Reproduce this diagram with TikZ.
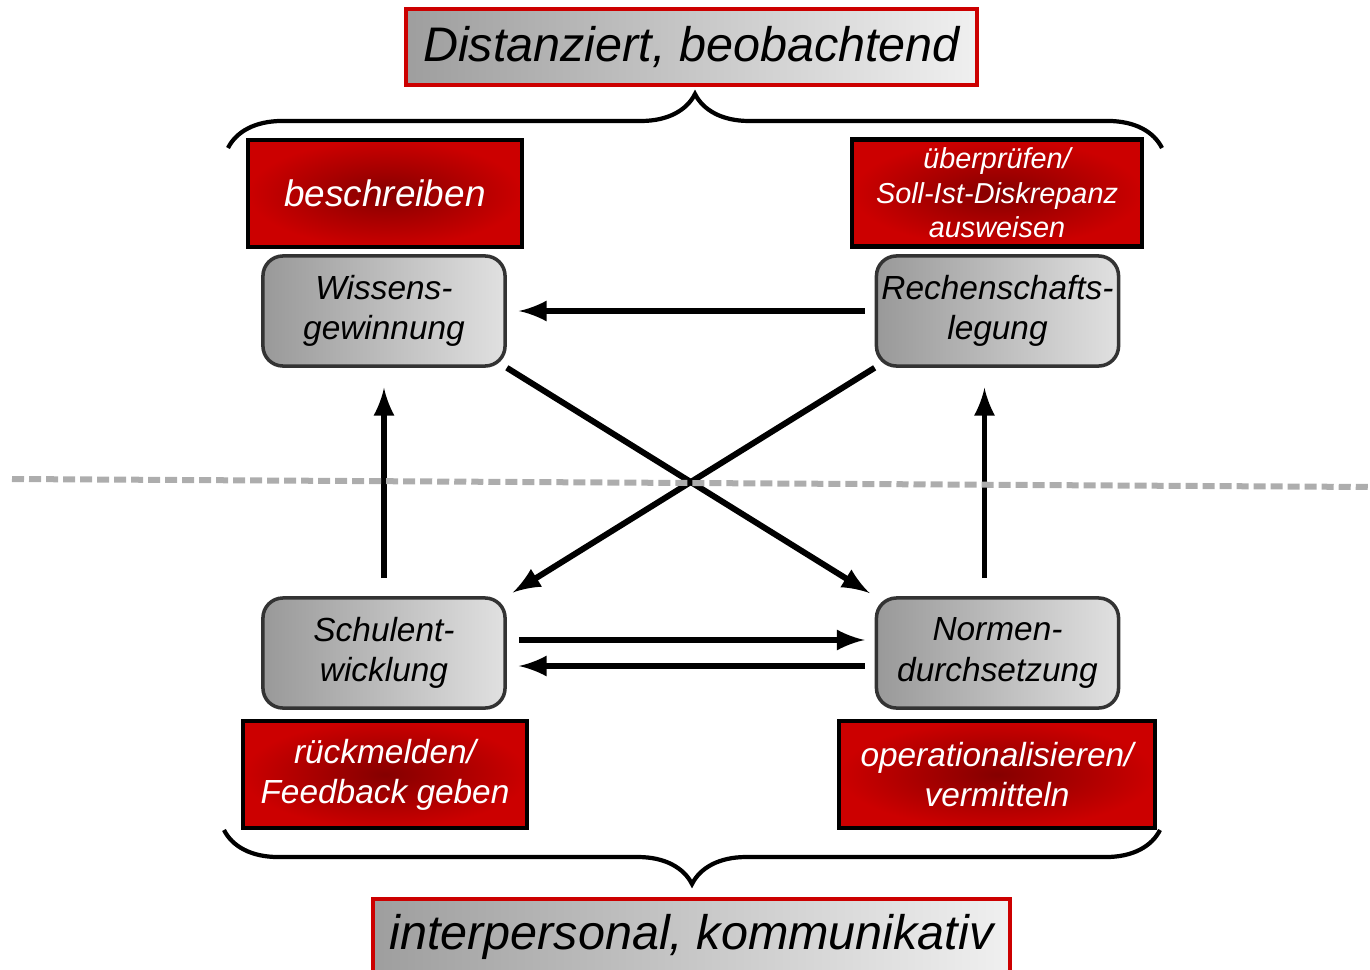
\documentclass[tikz,border=0pt]{standalone}
\usepackage{fontspec}
\setsansfont{Liberation Sans}
\usetikzlibrary{calc,decorations.pathreplacing}
\definecolor{boxred}{HTML}{CC0000}
\definecolor{darkred}{HTML}{850000}

\begin{document}
\begin{tikzpicture}[x=0.01cm,y=-0.01cm,font=\sffamily\itshape,
  title/.style={draw=boxred,line width=1.2pt,left color=black!38,right color=black!6,
    minimum width=5.71cm,minimum height=0.76cm,font=\sffamily\itshape\fontsize{13.8}{16}\selectfont},
  task/.style={draw=black,line width=1.2pt,shading=radial,inner color=darkred,outer color=boxred,
    text=white,align=center,inner sep=1pt,minimum height=1.07cm,font=\sffamily\itshape\fontsize{9.5}{11.4}\selectfont},
  role/.style={draw=black!80,line width=1pt,rounded corners=0.2cm,left color=black!40,right color=black!12,
    align=center,inner sep=1pt,minimum width=2.42cm,minimum height=1.1cm,font=\sffamily\itshape\fontsize{9.5}{11.4}\selectfont},
  arr/.style={-latex,line width=1.7pt},
  brc/.style={decorate,decoration={brace,amplitude=0.54cm},line width=1.2pt}]
\useasboundingbox (0,0) rectangle (1370,970);

% the two headings
\node[title] (distanz) at (691.5,47) {Distanziert, beobachtend};
\node[title,minimum width=6.37cm] (inter) at (691.5,937) {interpersonal, kommunikativ};

% the four roles
\node[role] (wissen) at (384,311) {Wissens-\\gewinnung};
\node[role] (rechen) at (997.5,311) {Rechenschafts-\\legung};
\node[role] (schule) at (384,653) {Schulent-\\wicklung};
\node[role] (normen) at (997.5,653) {Normen-\\durchsetzung};

% the tasks
\node[task,minimum width=2.74cm,font=\sffamily\itshape\fontsize{10.5}{12.6}\selectfont] (beschr) at (385,193.5) {beschreiben};
\node[task,minimum width=2.9cm,font=\sffamily\itshape\fontsize{8.2}{9.8}\selectfont] (pruef) at (997,193) {überprüfen/\\Soll-Ist-Diskrepanz\\ausweisen};
\node[task,minimum width=2.84cm] (rueck) at (385,774.5) {rückmelden/\\Feedback geben};
\node[task,minimum width=3.16cm] (oper) at (997,774.5) {operationalisieren/\\vermitteln};

% braces
\coordinate (obenL) at (228,148);
\coordinate (obenR) at (1162,148);
\coordinate (untenL) at (224,830);
\coordinate (untenR) at (1160,830);
\draw[brc] (obenL) -- (obenR);
\draw[brc] (untenR) -- (untenL);

% arrows
\draw[arr,shorten <=0.1cm,shorten >=0.12cm] (rechen.west) -- (wissen.east);
\draw[arr,shorten <=0.18cm,shorten >=0.2cm] (schule.north) -- (wissen.south);
\draw[arr,shorten <=0.18cm,shorten >=0.2cm] ([xshift=-0.13cm]normen.north) -- ([xshift=-0.13cm]rechen.south);
\draw[arr,shorten >=0.06cm] (wissen.south east) -- (normen.north west);
\draw[arr,shorten >=0.07cm] (rechen.south west) -- (schule.north east);
\draw[arr,shorten <=0.12cm,shorten >=0.1cm] ([yshift=0.13cm]schule.east) -- ([yshift=0.13cm]normen.west);
\draw[arr,shorten <=0.1cm,shorten >=0.12cm] ([yshift=-0.13cm]normen.west) -- ([yshift=-0.13cm]schule.east);

% dividing line
\draw[black!32,line width=0.06cm,dash pattern=on 0.12cm off 0.05cm] (12,479) -- (1370,487);
\end{tikzpicture}
\end{document}
